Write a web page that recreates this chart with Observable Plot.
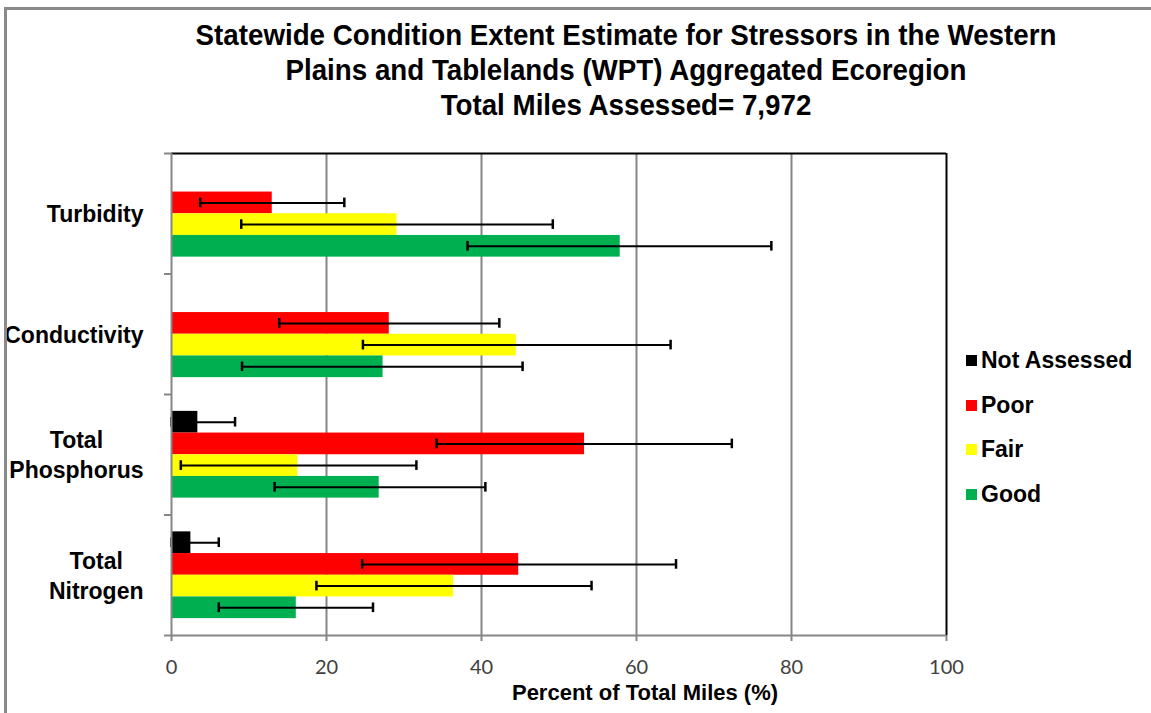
<!DOCTYPE html>
<html>
<head>
<meta charset="utf-8">
<script src="https://cdn.jsdelivr.net/npm/d3@7"></script>
<script src="https://cdn.jsdelivr.net/npm/@observablehq/plot@0.6"></script>
<style>
  html, body { margin: 0; padding: 0; background: #fff; overflow: hidden; }
  #page { position: relative; width: 1151px; height: 713px; overflow: hidden; background: #fff; }
  #border { position: absolute; left: 4px; top: 7px; width: 1300px; height: 900px; border: 3px solid #8a8a8a; box-sizing: border-box; pointer-events: none; }
  #title { position: absolute; left: 626px; top: 17px; transform: translateX(-50%) scaleX(0.94); white-space: nowrap; text-align: center;
           font-family: "Liberation Sans", Arial, sans-serif; font-weight: bold; font-size: 29.5px; line-height: 35px; color: #000; }
  #chart { position: absolute; left: 0; top: 145px; }
  #xlabel { position: absolute; left: 645px; top: 680px; transform: translateX(-50%); white-space: nowrap;
            font-family: "Liberation Sans", Arial, sans-serif; font-weight: bold; font-size: 22px; color: #000; }
  #legend { position: absolute; left: 966px; top: 338px; font-family: "Liberation Sans", Arial, sans-serif; font-weight: bold; font-size: 23px; color: #000; }
  .item { display: flex; align-items: center; height: 44.7px; }
  .sw { width: 11px; height: 11px; margin-right: 4px; }
</style>
</head>
<body>
<div id="page">
  <div id="title"></div>
  <div id="chart"></div>
  <div id="xlabel"></div>
  <div id="legend"></div>
  <div id="border"></div>
</div>
<script>
// ---- Data ----
const titleLines = [
  "Statewide Condition Extent Estimate for Stressors in the Western",
  "Plains and Tablelands (WPT) Aggregated Ecoregion",
  "Total Miles Assessed= 7,972"
];
const xAxisLabel = "Percent of Total Miles (%)";
const categories = ["Turbidity", "Conductivity", "Total\nPhosphorus", "Total\nNitrogen"];
const conditions = ["Not Assessed", "Poor", "Fair", "Good"];
const conditionColors = ["#000000", "#FF0000", "#FFFF00", "#00B050"];
const xTicks = [0, 20, 40, 60, 80, 100];

// values (%) per category, in category order
const notAssessed   = [null, null, 3.4, 2.5];
const notAssessedLo = [null, null, 0.0, 0.0];
const notAssessedHi = [null, null, 8.2, 6.1];
const poor   = [13.0, 28.1, 53.3, 44.8];
const poorLo = [3.7, 13.9, 34.2, 24.6];
const poorHi = [22.3, 42.3, 72.3, 65.1];
const fair   = [29.1, 44.5, 16.3, 36.4];
const fairLo = [9.0, 24.7, 1.2, 18.7];
const fairHi = [49.2, 64.4, 31.6, 54.2];
const good   = [57.9, 27.3, 26.8, 16.1];
const goodLo = [38.2, 9.1, 13.3, 6.1];
const goodHi = [77.4, 45.3, 40.5, 26.0];

// ---- Build table ----
const series = [
  [notAssessed, notAssessedLo, notAssessedHi],
  [poor, poorLo, poorHi],
  [fair, fairLo, fairHi],
  [good, goodLo, goodHi]
];
const rows = [];
categories.forEach((cat, g) => {
  conditions.forEach((cond, s) => {
    const [v, lo, hi] = series[s];
    if (v[g] == null) return;
    rows.push({category: cat, condition: cond, g, s, value: v[g], lo: lo[g], hi: hi[g]});
  });
});

const barW = 0.18;                       // fraction of group band per bar
const pad = (1 - conditions.length * barW) / 2;
const cap = 0.04;
const y1 = d => d.g + pad + d.s * barW;
const y2 = d => d.g + pad + (d.s + 1) * barW;
const yc = d => d.g + pad + (d.s + 0.5) * barW;

// measure label widths to center multi-line labels within a right-aligned block
const ctx = document.createElement("canvas").getContext("2d");
const labelFont = "bold 23px 'Liberation Sans'";
ctx.font = labelFont;
const labelWidth = t => Math.max(...t.split("\n").map(l => ctx.measureText(l).width));

const gray = "#868686";
const labelMarks = categories.map((c, g) =>
  Plot.text([c], {
    y: () => g + 0.5, frameAnchor: "left", textAnchor: "middle",
    dx: -(28 + labelWidth(c) / 2), dy: -1, lineHeight: 1.3,
    fontSize: 23, fontWeight: "bold", fontFamily: "Liberation Sans", fill: "#000"
  })
);

const chart = Plot.plot({
  width: 1151,
  height: 568,
  marginTop: 8,
  marginBottom: 78,
  marginLeft: 171,
  marginRight: 205,
  style: {fontFamily: "Liberation Sans", background: "transparent", overflow: "visible"},
  x: {domain: [0, 100]},
  y: {domain: [0, categories.length], reverse: true, axis: null},
  color: {domain: conditions, range: conditionColors},
  marks: [
    Plot.ruleX(xTicks.filter(t => t > 0 && t < 100), {stroke: gray, strokeWidth: 2}),
    Plot.rect(rows, {x1: 0, x2: "value", y1, y2, fill: "condition"}),
    Plot.ruleY(rows, {x1: "lo", x2: "hi", y: yc, stroke: "#000", strokeWidth: 2}),
    Plot.ruleX(rows, {x: "lo", y1: d => yc(d) - cap, y2: d => yc(d) + cap, stroke: "#000", strokeWidth: 2.5}),
    Plot.ruleX(rows, {x: "hi", y1: d => yc(d) - cap, y2: d => yc(d) + cap, stroke: "#000", strokeWidth: 2.5}),
    Plot.ruleY([0], {stroke: "#000", strokeWidth: 2}),
    Plot.ruleX([100], {stroke: "#000", strokeWidth: 2}),
    Plot.ruleX([0], {stroke: gray, strokeWidth: 2}),
    Plot.ruleY([categories.length], {stroke: gray, strokeWidth: 2}),
    Plot.axisY({ticks: d3.range(categories.length + 1), tickSize: 7, tickFormat: () => "", stroke: gray, strokeWidth: 2, label: null}),
    Plot.axisX({ticks: xTicks, tickSize: 6, tickPadding: 18, stroke: gray, strokeWidth: 2, fill: "#404040",
                fontSize: 20, fontFamily: "Lato", label: null}),
    ...labelMarks
  ]
});
document.getElementById("chart").appendChild(chart);

document.getElementById("title").innerHTML = titleLines.map(t => `<div>${t}</div>`).join("");
document.getElementById("xlabel").textContent = xAxisLabel;
const legend = document.getElementById("legend");
conditions.forEach((c, i) => {
  const it = document.createElement("div");
  it.className = "item";
  it.innerHTML = `<span class="sw" style="background:${conditionColors[i]}"></span><span>${c}</span>`;
  legend.appendChild(it);
});
</script>
</body>
</html>
